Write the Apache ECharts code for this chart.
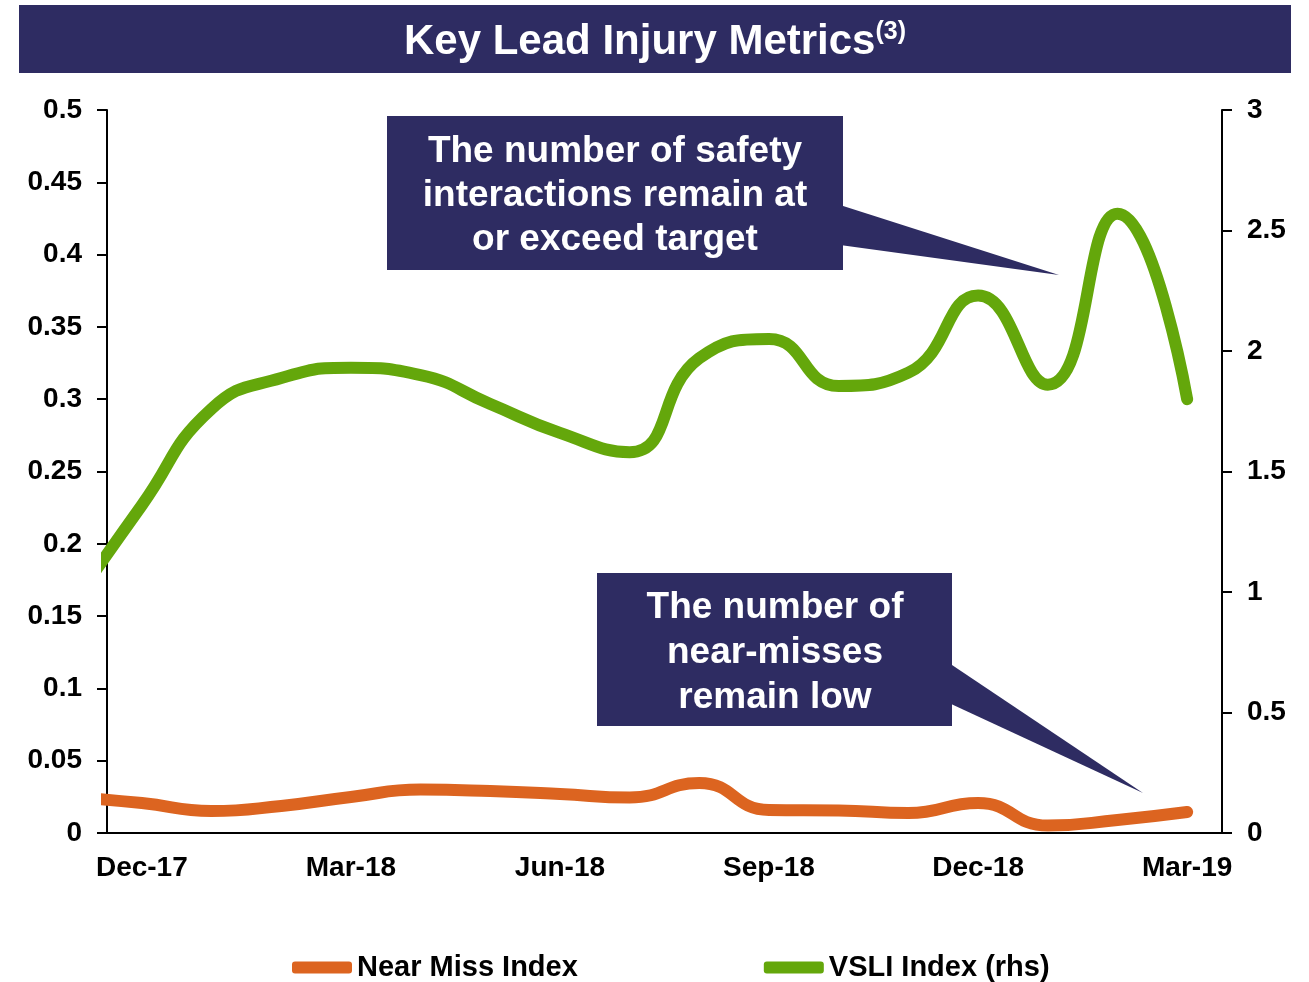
<!DOCTYPE html>
<html>
<head>
<meta charset="utf-8">
<title>Key Lead Injury Metrics</title>
<script src="https://cdn.jsdelivr.net/npm/echarts@6/dist/echarts.min.js"></script>
<style>
  html, body { margin: 0; padding: 0; background: #fff; }
  #chart { width: 1309px; height: 982px; }
</style>
</head>
<body>
<div id="chart"></div>
<script>
// monthly x-axis categories
const months = ['Dec-17', 'Jan-18', 'Feb-18', 'Mar-18', 'Apr-18', 'May-18', 'Jun-18', 'Jul-18',
                'Aug-18', 'Sep-18', 'Oct-18', 'Nov-18', 'Dec-18', 'Jan-19', 'Feb-19', 'Mar-19'];

// first value of each series is Nov-17, which is cut off by the left axis
const nearMiss = [0.025, 0.0207, 0.0152, 0.0187, 0.0249, 0.030, 0.029, 0.027, 0.0245,
                  0.0346, 0.0159, 0.0156, 0.0138, 0.0207, 0.0052, 0.009, 0.0145];
const vsli = [0.95, 1.36, 1.76, 1.888, 1.93, 1.90, 1.78, 1.66, 1.58,
              1.97, 2.05, 1.855, 1.91, 2.23, 1.86, 2.57, 1.80];

const NAVY = '#2e2c62';
const ORANGE = '#dc6420';
const GREEN = '#64a70b';
const FONT = '"Liberation Sans", Arial, sans-serif';

// points sit in the middle of each month band (x = 0.5, 1.5, ...)
function toPoints(values) {
    return values.map((v, i) => [i - 0.5, v]);
}

const axisLabelStyle = { color: '#000', fontSize: 28, fontWeight: 'bold', fontFamily: FONT };
const blackLine = { color: '#000', width: 2 };

let chart = echarts.init(document.getElementById('chart'));

let option = {
    animation: false,
    grid: { left: 107, right: 87, top: 110, bottom: 149, containLabel: false },
    legend: {
        left: 287, top: 948,
        icon: 'roundRect', itemWidth: 60, itemHeight: 12, itemGap: 186,
        textStyle: { color: '#000', fontSize: 29, fontWeight: 'bold', fontFamily: FONT },
        data: ['Near Miss Index', 'VSLI Index (rhs)']
    },
    xAxis: [
        {
            type: 'category', data: months, boundaryGap: true,
            axisLine: { lineStyle: blackLine },
            axisTick: { interval: 2, length: 10, lineStyle: blackLine },
            axisLabel: Object.assign({ interval: 2, margin: 21 }, axisLabelStyle),
            splitLine: { show: false }
        },
        { type: 'value', min: 0, max: 16, show: false }
    ],
    yAxis: [
        {
            type: 'value', position: 'left', min: 0, max: 0.5, interval: 0.05,
            axisLine: { show: true, lineStyle: blackLine },
            axisTick: { show: true, length: 10, lineStyle: blackLine },
            axisLabel: Object.assign({ margin: 25 }, axisLabelStyle),
            splitLine: { show: false }
        },
        {
            type: 'value', position: 'right', min: 0, max: 3, interval: 0.5,
            axisLine: { show: true, lineStyle: blackLine },
            axisTick: { show: true, length: 10, lineStyle: blackLine },
            axisLabel: Object.assign({ margin: 25 }, axisLabelStyle),
            splitLine: { show: false }
        }
    ],
    series: [
        {
            name: 'Near Miss Index', type: 'line', xAxisIndex: 1, yAxisIndex: 0,
            data: toPoints(nearMiss), smooth: true, showSymbol: false,
            itemStyle: { color: ORANGE },
            lineStyle: { color: ORANGE, width: 12, cap: 'round', join: 'round' }
        },
        {
            name: 'VSLI Index (rhs)', type: 'line', xAxisIndex: 1, yAxisIndex: 1,
            data: toPoints(vsli), smooth: true, showSymbol: false,
            itemStyle: { color: GREEN },
            lineStyle: { color: GREEN, width: 12, cap: 'round', join: 'round' }
        }
    ],
    graphic: [
        // title bar
        { type: 'rect', left: 19, top: 5, z: 10, shape: { width: 1272, height: 68 }, style: { fill: NAVY } },
        {
            type: 'text', x: 655, y: 42, z: 11,
            style: {
                text: 'Key Lead Injury Metrics{sup|(3)}',
                fill: '#fff', fontSize: 42, fontWeight: 'bold', fontFamily: FONT,
                align: 'center', verticalAlign: 'middle',
                rich: { sup: { fill: '#fff', fontSize: 25, fontWeight: 'bold', fontFamily: FONT, padding: [0, 0, 20, 0] } }
            }
        },
        // callout: safety interactions
        { type: 'polygon', z: 20, shape: { points: [[840, 205], [840, 245], [1059, 275]] }, style: { fill: NAVY } },
        { type: 'rect', left: 387, top: 116, z: 20, shape: { width: 456, height: 154 }, style: { fill: NAVY } },
        {
            type: 'text', x: 615, y: 130, z: 21,
            style: {
                text: 'The number of safety\ninteractions remain at\nor exceed target',
                fill: '#fff', fontSize: 37, fontWeight: 'bold', fontFamily: FONT,
                align: 'center', verticalAlign: 'top', lineHeight: 44
            }
        },
        // callout: near-misses
        { type: 'polygon', z: 20, shape: { points: [[949, 663], [949, 703], [1143, 793]] }, style: { fill: NAVY } },
        { type: 'rect', left: 597, top: 573, z: 20, shape: { width: 355, height: 153 }, style: { fill: NAVY } },
        {
            type: 'text', x: 775, y: 585, z: 21,
            style: {
                text: 'The number of\nnear-misses\nremain low',
                fill: '#fff', fontSize: 37, fontWeight: 'bold', fontFamily: FONT,
                align: 'center', verticalAlign: 'top', lineHeight: 45
            }
        }
    ]
};

chart.setOption(option);
</script>
</body>
</html>
